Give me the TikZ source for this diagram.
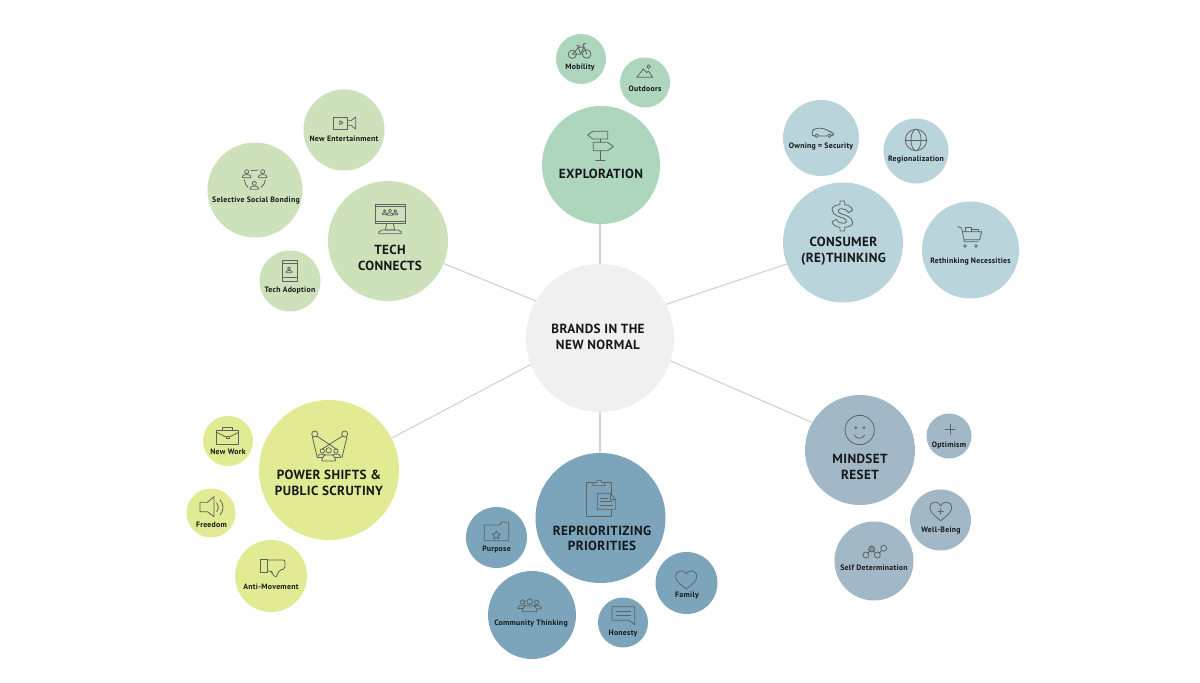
\documentclass[tikz,border=0pt]{standalone}
\usepackage{fontspec}
\setmainfont{PT Sans}
\newfontfamily\bigfont[LetterSpace=2.8]{PT Sans}
\newfontfamily\smallfont[LetterSpace=3.5]{PT Sans}
\definecolor{expl}{HTML}{AED6BC}
\definecolor{tech}{HTML}{CDE2BB}
\definecolor{cons}{HTML}{B9D4DA}
\definecolor{mind}{HTML}{A3B8C6}
\definecolor{repr}{HTML}{7CA5BB}
\definecolor{powr}{HTML}{E2EB93}
\definecolor{cent}{HTML}{F0F0F0}
\definecolor{linkc}{HTML}{D2D2D2}
\definecolor{icon}{HTML}{5F6364}
\definecolor{ink}{HTML}{14181A}
\tikzset{
  bubble/.style={circle,draw=none,inner sep=0pt,outer sep=0pt},
  biglab/.style={text=ink,align=center,inner sep=0pt,font=\bigfont\bfseries\fontsize{6.6}{7.8}\selectfont},
  smalllab/.style={text=ink,align=center,inner sep=0pt,yshift=-0.5pt,font=\smallfont\bfseries\fontsize{3.9}{4.4}\selectfont},
  link/.style={draw=linkc,line width=0.55pt},
  ic/.style={draw=icon,line width=0.4pt,line join=round,line cap=round},
  zoomed/.style={shift={#1},scale=1/3}
}
% radius in px => diameter (px) * 0.5pt = r pt
\newcommand{\bub}[5]{\node[bubble,fill=#5,minimum size=#4 pt] (#1) at (#2,#3) {};}
\newcommand{\person}[4][ic]{% x, y (head centre), head radius
  \draw[#1] (#2,#3) circle (#4);
  \draw[#1,rounded corners=0.5pt] (#2-2.4*#4,#3+3*#4) -- (#2-1.5*#4,#3+1.5*#4) -- (#2+1.5*#4,#3+1.5*#4) -- (#2+2.4*#4,#3+3*#4) -- cycle;
}
\begin{document}
\begin{tikzpicture}[x=0.5pt,y=-0.5pt]
\useasboundingbox (0,0) rectangle (1200,683);
\fill[white] (0,0) rectangle (1200,683);
% bubbles
\bub{center}{600}{338}{74}{cent}
\bub{explo}{601}{165}{59}{expl}
\bub{mobil}{581}{59}{25}{expl}
\bub{outd}{645}{82.5}{25}{expl}
\bub{tcon}{388}{241}{60}{tech}
\bub{nent}{344}{130}{40.5}{tech}
\bub{ssb}{255}{190}{47.5}{tech}
\bub{tado}{290}{281}{30.5}{tech}
\bub{cnsm}{843}{242.5}{60}{cons}
\bub{ownq}{821}{138}{38}{cons}
\bub{regi}{916}{151}{32.5}{cons}
\bub{rnec}{970.5}{250}{48.5}{cons}
\bub{mset}{860}{450}{55}{mind}
\bub{opti}{949}{436}{22.5}{mind}
\bub{well}{940.5}{520}{30.5}{mind}
\bub{sdet}{874}{561}{39.5}{mind}
\bub{prio}{600.5}{518}{65}{repr}
\bub{purp}{496.5}{537.5}{30.5}{repr}
\bub{comm}{532}{615}{44}{repr}
\bub{hone}{623}{622.5}{25}{repr}
\bub{fami}{686.5}{583}{31}{repr}
\bub{powe}{329}{470}{70}{powr}
\bub{nwrk}{228}{441}{25}{powr}
\bub{free}{211}{513}{24.5}{powr}
\bub{anti}{271}{576}{36}{powr}
% connectors
\draw[link] (center.90) -- (center.90 |- explo.south);
\draw[link] (center.270) -- (center.270 |- prio.north);
\draw[link] (center.150.3) -- (tcon.-22);
\draw[link] (center.27.6) -- (cnsm.201);
\draw[link] (center.201.4) -- (powe.27.6);
\draw[link] (center.-18.7) -- (mset.150.6);
% labels
\node[biglab] (tcenter) at (598,337) {BRANDS IN THE\\NEW NORMAL};
\node[biglab] (texplo) at (601,174) {EXPLORATION};
\node[biglab] (ttcon) at (390,258) {TECH\\CONNECTS};
\node[biglab] (tcnsm) at (843.5,251.5) {CONSUMER\\(RE)THINKING};
\node[biglab] (tmset) at (860,467) {MINDSET\\RESET};
\node[biglab] (tprio) at (602,538.5) {REPRIORITIZING\\PRIORITIES};
\node[biglab] (tpowe) at (329,483) {POWER SHIFTS \&\\PUBLIC SCRUTINY};
\node[smalllab] (tmobil) at (580,67) {Mobility};
\node[smalllab] (toutd) at (645,87.5) {Outdoors};
\node[smalllab] (tnent) at (344,138) {New Entertainment};
\node[smalllab] (tssb) at (256,200) {Selective Social Bonding};
\node[smalllab] (ttado) at (290,289.5) {Tech Adoption};
\node[smalllab] (town) at (821,145.5) {Owning = Security};
\node[smalllab] (tregi) at (916,158.5) {Regionalization};
\node[smalllab] (trnec) at (970.5,261) {Rethinking Necessities};
\node[smalllab] (topti) at (949,444) {Optimism};
\node[smalllab] (twell) at (941,530) {Well-Being};
\node[smalllab] (tsdet) at (874,567) {Self Determination};
\node[smalllab] (tpurp) at (496.5,549) {Purpose};
\node[smalllab] (tcomm) at (531,623) {Community Thinking};
\node[smalllab] (thone) at (623,633) {Honesty};
\node[smalllab] (tfami) at (687,595) {Family};
\node[smalllab] (tnwrk) at (228,450.5) {New Work};
\node[smalllab] (tfree) at (211.5,523.5) {Freedom};
\node[smalllab] (tanti) at (271,585.5) {Anti-Movement};
% ---- icons: tech group
\begin{scope}[zoomed={(190,80)}]
  \draw[ic] (429,111) rectangle (473,147);
  \draw[ic] (449,122) -- (449,134) -- (459,128) -- cycle;
  \draw[ic] (473,122) -- (483,122) -- (497,111) -- (497,147) -- (483,136) -- (473,136);
  \person{170}{275}{6}
  \person{218}{275}{6}
  \person{193}{310}{6}
  \draw[ic] (183,272) -- (205,270);
  \draw[ic] (163,300) .. controls (164,310) and (168,317) .. (174,322);
  \draw[ic] (226,300) .. controls (225,310) and (220,317) .. (213,322);
  \draw[ic] (277,541) rectangle (323,603);
  \draw[ic] (277,550) -- (323,550) (277,592) -- (323,592);
  \person{297}{565}{4.5}
  \draw[ic] (555,372) rectangle (645,431);
  \draw[ic] (555,380) -- (645,380) (555,423) -- (645,423);
  \person{584}{393}{3.8}
  \person{616}{393}{3.8}
  \person{600}{392}{4.5}
  \draw[ic] (590,431) -- (586,450) -- (614,450) -- (610,431);
  \draw[ic,rounded corners=1pt] (563,461) -- (570,450) -- (630,450) -- (637,461) -- cycle;
\end{scope}
% ---- icons: exploration group
\begin{scope}[zoomed={(530,25)}]
  \draw[ic] (173,330) -- (188,319) -- (233,319) -- (233,342) -- (188,342) -- cycle;
  \draw[ic] (190,352) -- (233,352) -- (250,365) -- (233,377) -- (190,377) -- cycle;
  \draw[ic] (210,342) -- (210,352) (210,377) -- (210,407) (197,407) -- (225,407);
  \draw[ic] (127,88) circle (12.5) (170,87) circle (13);
  \draw[ic] (127,88) -- (145,68) -- (152,88) -- (127,88) (145,68) -- (162,65) -- (170,87) (152,88) -- (162,65) (139,62) -- (150,62) (145,68) -- (143,62) (162,65) -- (160,57) -- (168,55);
  \draw[ic] (320,157) -- (340,132) -- (350,143) -- (355,138) -- (368,157) -- cycle;
  \draw[ic] (356,125) circle (5.5);
\end{scope}
% ---- icons: consumer group
\begin{scope}[zoomed={(770,90)}]
  \draw[ic,rounded corners=1.5pt] (127,136) -- (126,122) -- (136,115) -- (162,115) -- (176,124) -- (190,128) -- (190,138) -- (184,138) (172,138) -- (146,138) (134,138) -- (127,136);
  \draw[ic] (140,137) circle (5.5) (178,137) circle (5.5);
  \draw[ic] (438,150) circle (32);
  \draw[ic] (438,150) ellipse (15 and 32);
  \draw[ic] (406,150) -- (470,150);
  \draw[ic] (210,333) -- (224,333) -- (224,344)
    .. controls (236,345) and (245,352) .. (248,360) -- (236,368)
    .. controls (232,360) and (224,356) .. (214,356)
    .. controls (203,356) and (202,366) .. (208,369)
    .. controls (220,375) and (248,378) .. (248,398)
    .. controls (248,406) and (238,411) .. (224,412)
    -- (224,423) -- (210,423) -- (210,412)
    .. controls (198,411) and (189,404) .. (186,396) -- (198,388)
    .. controls (202,396) and (210,400) .. (220,400)
    .. controls (231,400) and (232,390) .. (226,387)
    .. controls (214,381) and (186,378) .. (186,358)
    .. controls (186,350) and (196,345) .. (210,344) -- cycle;
  \draw[ic] (563,410) -- (575,414) -- (583,455) -- (625,455) (577,425) -- (635,425) -- (629,449) -- (582,449);
  \draw[ic] (585,468) circle (4) (618,468) circle (4);
  \draw[ic] (585,425) -- (585,412) -- (605,412) -- (605,425) (605,418) -- (626,418) -- (626,425);
\end{scope}
% ---- icons: mindset group
\begin{scope}[zoomed={(790,390)}]
  \draw[ic] (209,120) circle (44);
  \draw[ic] (197,113) circle (3) (222,113) circle (3);
  \draw[ic] (193,135) .. controls (198,148) and (218,148) .. (224,135);
  \draw[ic] (480,103) -- (480,133) (465,118) -- (495,118);
  \draw[ic] (452,392) .. controls (430,375) and (420,365) .. (420,352) .. controls (420,332) and (448,332) .. (452,348) .. controls (456,332) and (485,332) .. (485,352) .. controls (485,365) and (474,375) .. (452,392) -- cycle;
  \draw[ic] (452,356) -- (452,372) (444,364) -- (460,364);
  \draw[ic,fill=icon!45!mind] (245,477) circle (9);
  \draw[ic] (228,495) circle (9) (262,495) circle (9) (281,475) circle (9);
  \draw[ic] (234,489) -- (239,483) (251,483) -- (256,489) (268,489) -- (275,481);
\end{scope}
% ---- icons: reprioritizing group
\begin{scope}[zoomed={(455,450)}]
  \draw[ic] (393,98) rectangle (470,199);
  \draw[ic,fill=repr] (414,107) -- (414,98) -- (424,98) -- (427,91) -- (438,91) -- (441,98) -- (450,98) -- (450,107) -- cycle;
  \draw[ic,fill=repr] (427,130) -- (465,130) -- (481,147) -- (481,178) -- (427,178) -- cycle;
  \draw[ic] (465,130) -- (465,147) -- (481,147);
  \draw[ic] (436,145) -- (457,145) (436,155) -- (472,155) (436,165) -- (472,165);
  \draw[ic] (88,272) -- (88,225) -- (135,225) -- (140,216) -- (161,216) -- (161,272) -- cycle;
  \draw[ic] (124,243) -- (128,251) -- (137,252) -- (130,258) -- (132,267) -- (124,262) -- (116,267) -- (118,258) -- (111,252) -- (120,251) -- cycle;
  \person{203}{456}{6.5}
  \person{245}{457}{6.5}
  \draw[ic,fill=repr] (224,455) circle (8.5);
  \draw[ic,fill=repr,rounded corners=0.5pt] (200,485) -- (208,468) -- (240,468) -- (248,485) -- cycle;
  \draw[ic] (471,470) -- (539,470) -- (539,524) -- (522,511) -- (471,511) -- cycle;
  \draw[ic] (483,484) -- (527,484) (483,497) -- (527,497);
  \draw[ic] (694,417) .. controls (672,400) and (662,392) .. (662,380) .. controls (662,358) and (690,358) .. (694,372) .. controls (698,358) and (725,358) .. (725,380) .. controls (725,392) and (716,400) .. (694,417) -- cycle;
\end{scope}
% ---- icons: power group
\begin{scope}[zoomed={(180,395)}]
  \draw[ic] (404,117) circle (9) (494,117) circle (9);
  \draw[ic] (410,123) -- (470,163) (488,123) -- (425,163);
  \draw[ic] (397,125) -- (412,188) (501,125) -- (486,188);
  \person{427}{168}{6.5}
  \person{468}{168}{6.5}
  \draw[ic,fill=powr] (446,166) circle (8);
  \draw[ic,fill=powr,rounded corners=0.5pt] (424,198) -- (432,180) -- (460,180) -- (468,198) -- cycle;
  \draw[ic] (110,107) rectangle (176,147);
  \draw[ic] (128,107) -- (128,98) -- (158,98) -- (158,107);
  \draw[ic] (110,112) -- (138,126) (148,126) -- (176,112);
  \draw[ic] (138,123) rectangle (148,131);
  \draw[ic] (60,322) -- (82,322) -- (102,305) -- (102,365) -- (82,350) -- (60,350) -- cycle;
  \draw[ic] (110,324) .. controls (116,332) and (116,342) .. (110,350);
  \draw[ic] (120,314) .. controls (132,328) and (132,346) .. (120,360);
  \draw[ic] (241,492) rectangle (262,533);
  \draw[ic,rounded corners=1pt] (262,495) -- (315,495) -- (315,522) -- (298,525) -- (288,548) -- (275,535) -- (275,528) -- (262,528);
\end{scope}
\end{tikzpicture}
\end{document}
